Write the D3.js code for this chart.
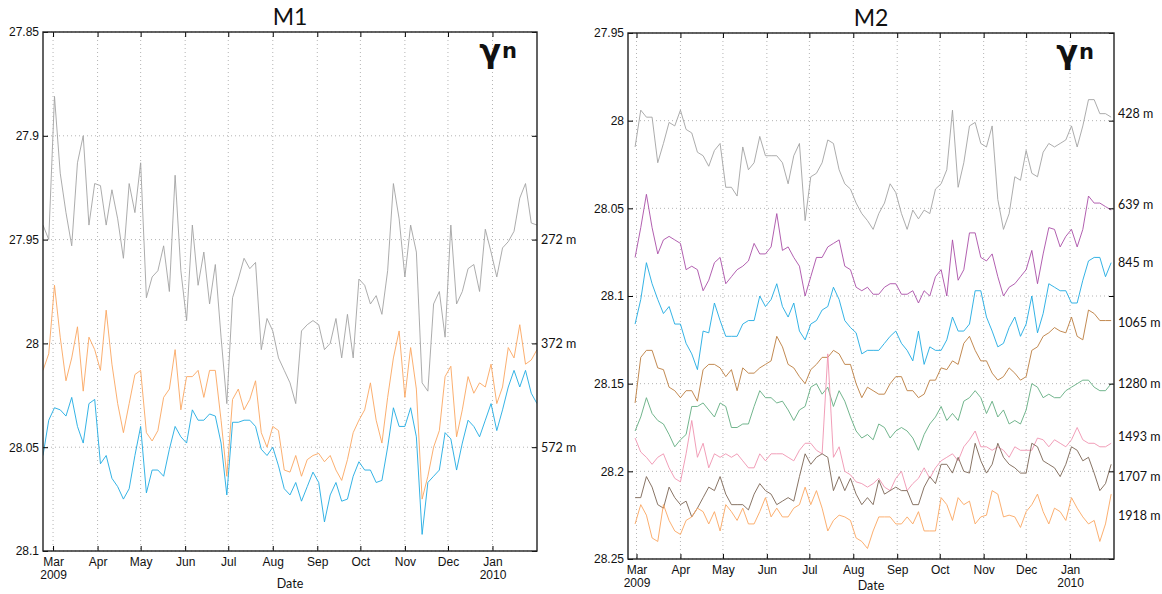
<!DOCTYPE html>
<html>
<head>
<meta charset="utf-8">
<script src="https://cdn.jsdelivr.net/npm/d3@7"></script>
<style>
  body { margin: 0; background: #fff; }
  svg { display: block; font-family: Lato, 'Open Sans', sans-serif; }
  .tick text { font-size: 12px; fill: #111; }
</style>
</head>
<body>
<svg width="1162" height="594"></svg>
<script>
// neutral density at each mooring, every 4 days
const m1Dates = d3.timeDay.range(new Date(2009, 1, 22), new Date(2010, 1, 2), 4)
const m2Dates = d3.timeDay.range(new Date(2009, 1, 28), new Date(2010, 0, 31), 4)

const m1Depths = ['272 m', '372 m', '572 m']
const m1LabelAt = [27.95, 28.0, 28.05]
const m1Colors = ['#a3a3a3', '#fba660', '#1eaae2']

const m1_272 = [27.943,27.950,27.881,27.918,27.937,27.953,27.913,27.900,27.943,27.923,27.924,27.943,27.926,27.940,27.959,27.923,27.937,27.913,27.978,27.968,27.965,27.953,27.975,27.919,27.965,27.989,27.943,27.972,27.956,27.981,27.962,27.997,28.029,27.978,27.969,27.959,27.964,27.961,28.003,27.988,27.994,28.007,28.013,28.019,
  28.029,27.994,27.991,27.989,27.991,28.003,28.000,27.988,28.007,27.986,28.007,27.969,27.972,27.981,27.977,27.986,27.965,27.923,27.940,27.968,27.943,27.956,28.019,28.023,27.981,27.975,27.997,27.943,27.981,27.975,27.964,27.962,27.975,27.945,27.956,27.968,27.954,27.951,27.946,27.930,27.923,27.942,27.943]
const m1_372 = [28.013,28.005,27.972,27.997,28.018,28.007,27.992,28.023,27.997,28.003,28.013,27.984,28.010,28.029,28.043,28.029,28.015,28.013,28.043,28.047,28.042,28.026,28.022,28.003,28.032,28.016,28.016,28.013,28.026,28.013,28.013,28.037,28.064,28.027,28.022,28.032,28.027,28.018,28.043,28.050,28.040,28.042,28.061,28.062,
  28.054,28.064,28.056,28.054,28.053,28.057,28.054,28.061,28.066,28.056,28.043,28.037,28.032,28.019,28.037,28.048,28.026,28.007,27.994,28.026,28.002,28.022,28.075,28.064,28.050,28.042,28.016,28.011,28.045,28.032,28.016,28.024,28.019,28.021,28.010,28.029,28.021,28.002,28.007,27.991,28.010,28.008,28.003]
const m1_572 = [28.054,28.037,28.031,28.032,28.035,28.026,28.040,28.048,28.029,28.027,28.058,28.054,28.065,28.069,28.075,28.070,28.054,28.040,28.072,28.061,28.061,28.064,28.051,28.040,28.045,28.048,28.032,28.037,28.037,28.034,28.035,28.048,28.073,28.038,28.038,28.037,28.037,28.040,28.051,28.054,28.050,28.059,28.070,28.073,
  28.067,28.076,28.069,28.062,28.067,28.086,28.073,28.067,28.076,28.075,28.064,28.057,28.061,28.061,28.067,28.066,28.050,28.031,28.040,28.040,28.031,28.045,28.092,28.067,28.064,28.061,28.043,28.046,28.061,28.048,28.037,28.040,28.045,28.037,28.029,28.042,28.032,28.021,28.013,28.021,28.013,28.024,28.029]

const m2Depths = ['428 m', '639 m', '845 m', '1065 m', '1280 m', '1493 m', '1707 m', '1918 m']
const m2LabelAt = [27.996, 28.048, 28.081, 28.115, 28.150, 28.180, 28.203, 28.225]
const m2Colors = ['#a3a3a3', '#a94ea7', '#1eaae2', '#bb7d3e', '#62ad80', '#ef93b0', '#7b6453', '#fba660']

const m2_428 = [28.015,27.994,27.998,27.998,28.024,28.013,28.001,28.003,27.994,28.005,28.007,28.018,28.020,28.026,28.017,28.013,28.038,28.038,28.043,28.015,28.028,28.024,28.009,28.020,28.020,28.020,28.024,28.036,28.020,28.013,28.057,28.032,28.030,28.024,28.011,28.013,28.028,28.036,28.039,28.047,28.053,28.057,28.062,
  28.053,28.047,28.036,28.041,28.053,28.062,28.051,28.056,28.051,28.053,28.039,28.036,28.028,27.994,28.038,28.024,28.003,28.001,28.013,28.015,28.003,28.045,28.062,28.053,28.032,28.034,28.017,28.030,28.032,28.018,28.013,28.015,28.013,28.011,28.003,28.015,28.003,27.988,27.988,27.996,27.996,27.998]
const m2_639 = [28.078,28.061,28.042,28.061,28.076,28.068,28.066,28.068,28.070,28.085,28.083,28.085,28.097,28.091,28.081,28.078,28.093,28.089,28.085,28.083,28.080,28.070,28.076,28.076,28.072,28.053,28.074,28.072,28.078,28.083,28.100,28.089,28.078,28.078,28.072,28.070,28.068,28.083,28.085,28.095,28.097,28.095,28.099,
  28.099,28.095,28.093,28.093,28.099,28.099,28.097,28.104,28.097,28.100,28.089,28.085,28.100,28.068,28.091,28.085,28.064,28.064,28.078,28.080,28.076,28.089,28.100,28.095,28.093,28.089,28.085,28.074,28.093,28.076,28.061,28.062,28.072,28.066,28.062,28.072,28.062,28.043,28.047,28.047,28.049,28.051]
const m2_845 = [28.116,28.102,28.081,28.093,28.102,28.110,28.106,28.116,28.116,28.127,28.133,28.142,28.120,28.121,28.104,28.114,28.123,28.123,28.123,28.116,28.114,28.114,28.100,28.106,28.102,28.093,28.106,28.112,28.104,28.120,28.125,28.116,28.114,28.108,28.106,28.095,28.102,28.114,28.118,28.121,28.133,28.131,28.131,
  28.131,28.127,28.123,28.120,28.127,28.131,28.137,28.120,28.139,28.129,28.131,28.131,28.125,28.112,28.120,28.120,28.116,28.097,28.097,28.112,28.120,28.129,28.127,28.118,28.112,28.123,28.116,28.100,28.121,28.110,28.093,28.095,28.097,28.097,28.104,28.104,28.091,28.080,28.078,28.078,28.089,28.081]
const m2_1065 = [28.161,28.135,28.131,28.131,28.141,28.142,28.152,28.154,28.158,28.154,28.154,28.160,28.142,28.139,28.139,28.141,28.146,28.142,28.154,28.141,28.144,28.144,28.141,28.139,28.137,28.123,28.129,28.139,28.141,28.146,28.150,28.142,28.139,28.135,28.135,28.131,28.133,28.139,28.139,28.150,28.158,28.152,28.154,
  28.156,28.156,28.150,28.146,28.146,28.154,28.154,28.158,28.156,28.148,28.148,28.141,28.142,28.137,28.139,28.127,28.123,28.131,28.137,28.137,28.144,28.148,28.146,28.141,28.144,28.148,28.146,28.131,28.129,28.123,28.121,28.118,28.120,28.121,28.112,28.123,28.125,28.108,28.110,28.114,28.114,28.114]
const m2_1280 = [28.177,28.169,28.158,28.167,28.171,28.173,28.179,28.186,28.182,28.179,28.163,28.163,28.161,28.165,28.169,28.161,28.163,28.175,28.175,28.173,28.173,28.163,28.154,28.158,28.158,28.161,28.160,28.165,28.171,28.165,28.163,28.152,28.150,28.156,28.152,28.163,28.154,28.160,28.169,28.177,28.181,28.179,28.182,
  28.173,28.175,28.181,28.177,28.175,28.177,28.181,28.188,28.179,28.173,28.169,28.163,28.171,28.167,28.171,28.160,28.158,28.154,28.158,28.167,28.160,28.169,28.165,28.173,28.171,28.173,28.165,28.150,28.152,28.158,28.156,28.158,28.158,28.154,28.152,28.150,28.148,28.148,28.152,28.154,28.154,28.150]
const m2_1493 = [28.181,28.189,28.192,28.196,28.192,28.190,28.198,28.204,28.206,28.190,28.171,28.192,28.184,28.198,28.190,28.192,28.190,28.192,28.190,28.194,28.198,28.198,28.190,28.194,28.190,28.190,28.190,28.192,28.194,28.188,28.184,28.184,28.188,28.190,28.133,28.192,28.186,28.200,28.202,28.206,28.207,28.209,28.207,
  28.204,28.209,28.211,28.204,28.200,28.211,28.207,28.204,28.198,28.204,28.198,28.194,28.192,28.190,28.194,28.186,28.182,28.177,28.186,28.186,28.188,28.186,28.188,28.192,28.186,28.188,28.188,28.188,28.181,28.182,28.186,28.182,28.184,28.186,28.182,28.175,28.182,28.184,28.184,28.186,28.186,28.184]
const m2_1707 = [28.215,28.215,28.203,28.209,28.219,28.221,28.209,28.215,28.219,28.217,28.226,28.221,28.215,28.209,28.211,28.203,28.213,28.219,28.219,28.219,28.222,28.213,28.207,28.211,28.213,28.219,28.217,28.215,28.217,28.203,28.190,28.196,28.192,28.190,28.192,28.211,28.203,28.211,28.204,28.213,28.219,28.215,28.219,
  28.205,28.213,28.211,28.209,28.211,28.211,28.219,28.219,28.209,28.203,28.207,28.196,28.196,28.201,28.192,28.200,28.201,28.184,28.194,28.201,28.196,28.184,28.192,28.196,28.198,28.201,28.201,28.184,28.186,28.194,28.196,28.198,28.203,28.196,28.186,28.188,28.194,28.192,28.201,28.211,28.207,28.196]
const m2_1918 = [28.230,28.219,28.225,28.238,28.240,28.219,28.228,28.234,28.236,28.228,28.226,28.221,28.223,28.230,28.223,28.234,28.219,28.223,28.228,28.221,28.230,28.230,28.223,28.215,28.226,28.221,28.226,28.226,28.221,28.219,28.209,28.219,28.211,28.221,28.234,28.228,28.225,28.226,28.228,28.238,28.240,28.244,28.234,
  28.226,28.226,28.226,28.230,28.230,28.226,28.230,28.223,28.234,28.234,28.234,28.215,28.219,28.228,28.215,28.219,28.217,28.230,28.226,28.225,28.211,28.213,28.226,28.225,28.226,28.232,28.223,28.219,28.213,28.223,28.230,28.221,28.223,28.228,28.215,28.221,28.226,28.230,28.228,28.240,28.230,28.213]

const m1Ticks = [27.85, 27.9, 27.95, 28, 28.05, 28.1]
const m2Ticks = [27.95, 28, 28.05, 28.1, 28.15, 28.2, 28.25]
const monthTicks = d3.timeMonth.range(new Date(2009, 2, 1), new Date(2010, 1, 1))

const svg = d3.select('svg')
const fmtMonth = d3.timeFormat('%b')

function drawPanel (opts) {
  const { id, title, box, xDomain, yDomain, yTicks, dates, series, colors, depths, labelAt, dateDy } = opts

  const x = d3.scaleTime().domain(xDomain).range([box.left, box.right])
  const y = d3.scaleLinear().domain(yDomain).range([box.top, box.bottom])

  const g = svg.append('g')

  g.append('clipPath').
    attr('id', id).
    append('rect').
    attr('x', box.left).attr('y', box.top).
    attr('width', box.right - box.left).attr('height', box.bottom - box.top)

  // dotted grid
  const grid = g.append('g').attr('stroke', '#b4b4b4').attr('stroke-dasharray', '1,3')
  grid.selectAll('.gx').data(monthTicks).enter().append('line').
    attr('x1', d => x(d)).attr('x2', d => x(d)).
    attr('y1', box.top).attr('y2', box.bottom)
  grid.selectAll('.gy').data(yTicks).enter().append('line').
    attr('x1', box.left).attr('x2', box.right).
    attr('y1', d => y(d)).attr('y2', d => y(d))

  const line = d3.line().
    x((d, i) => x(dates[i])).
    y(d => y(d))

  g.append('g').
    attr('clip-path', `url(#${id})`).
    selectAll('path').
    data(series).
    enter().
    append('path').
    attr('fill', 'none').
    attr('stroke', (d, i) => colors[i]).
    attr('stroke-width', 0.9).
    attr('stroke-linejoin', 'round').
    attr('d', line)

  // axes, ticks pointing inward
  const xAxis = g.append('g').
    attr('transform', `translate(0,${box.bottom})`).
    call(d3.axisBottom(x).tickValues(monthTicks).tickSizeInner(-5).tickSizeOuter(0).tickPadding(5))
  xAxis.select('.domain').remove()
  // year goes on its own line under Mar and Jan
  xAxis.selectAll('.tick').each(function (d) {
    const tick = d3.select(this)
    tick.select('text').attr('dy', '0.85em').text(fmtMonth(d))
    if ((d.getFullYear() === 2009 && d.getMonth() === 2) || d.getMonth() === 0) {
      tick.append('text').
        attr('y', 5).
        attr('dy', '1.95em').
        attr('fill', '#111').
        text(d.getFullYear())
    }
  })

  g.append('g').
    attr('transform', `translate(0,${box.top})`).
    call(d3.axisTop(x).tickValues(monthTicks).tickSizeInner(-5).tickSizeOuter(0).tickFormat('')).
    select('.domain').remove()

  const yAxis = g.append('g').
    attr('transform', `translate(${box.left},0)`).
    call(d3.axisLeft(y).tickValues(yTicks).tickSizeInner(-5).tickSizeOuter(0).tickPadding(4).tickFormat(d3.format('')))
  yAxis.select('.domain').remove()
  yAxis.selectAll('.tick text').attr('font-size', 12.5)

  g.append('g').
    attr('transform', `translate(${box.right},0)`).
    call(d3.axisRight(y).tickValues(yTicks).tickSizeInner(-5).tickSizeOuter(0).tickFormat('')).
    select('.domain').remove()

  g.append('rect').
    attr('x', box.left).attr('y', box.top).
    attr('width', box.right - box.left).attr('height', box.bottom - box.top).
    attr('fill', 'none').
    attr('stroke', '#222').
    attr('stroke-width', 1.4)

  // depth labels
  g.selectAll('.depth').
    data(depths).
    enter().
    append('text').
    attr('x', box.right + 4).
    attr('y', (d, i) => y(labelAt[i])).
    attr('dy', '0.35em').
    attr('font-size', 12.5).
    attr('fill', '#111').
    text(d => d)

  g.append('text').
    attr('x', (box.left + box.right) / 2).
    attr('y', box.top - 7).
    attr('text-anchor', 'middle').
    attr('font-size', 23).
    attr('fill', '#111').
    text(title)

  g.append('text').
    attr('x', (box.left + box.right) / 2).
    attr('y', box.bottom + dateDy).
    attr('text-anchor', 'middle').
    attr('font-size', 12.5).
    attr('fill', '#111').
    text('Date')

  const gam = g.append('text').
    attr('x', box.right - 20).
    attr('y', box.top + 30).
    attr('text-anchor', 'end').
    attr('font-family', 'DejaVu Sans, sans-serif').
    attr('fill', '#111')
  gam.append('tspan').attr('font-size', 32).attr('font-weight', 'bold').text('γ')
  gam.append('tspan').attr('font-size', 21).attr('font-weight', 600).attr('dx', 1).attr('dy', -4).text('n')
}

drawPanel({
  id: 'clip-m1',
  title: 'M1',
  box: { left: 43, top: 32, right: 537, bottom: 551 },
  xDomain: [new Date(2009, 1, 22), new Date(2010, 1, 1)],
  yDomain: [27.85, 28.1],
  yTicks: m1Ticks,
  dates: m1Dates,
  series: [m1_272, m1_372, m1_572],
  colors: m1Colors,
  depths: m1Depths,
  labelAt: m1LabelAt,
  dateDy: 37
})

drawPanel({
  id: 'clip-m2',
  title: 'M2',
  box: { left: 628, top: 33, right: 1114, bottom: 559 },
  xDomain: [new Date(2009, 1, 23), new Date(2010, 1, 1)],
  yDomain: [27.95, 28.25],
  yTicks: m2Ticks,
  dates: m2Dates,
  series: [m2_428, m2_639, m2_845, m2_1065, m2_1280, m2_1493, m2_1707, m2_1918],
  colors: m2Colors,
  depths: m2Depths,
  labelAt: m2LabelAt,
  dateDy: 31
})
</script>
</body>
</html>
